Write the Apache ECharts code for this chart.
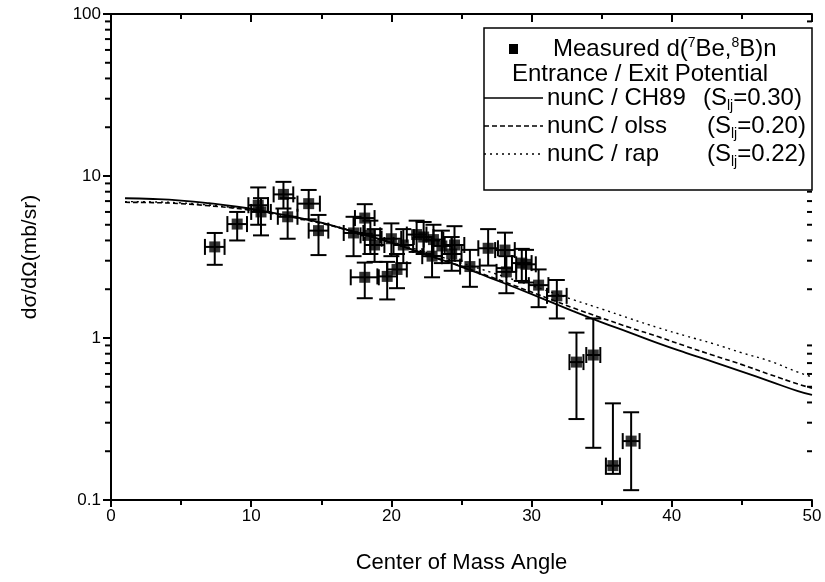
<!DOCTYPE html>
<html><head><meta charset="utf-8">
<script src="https://cdn.jsdelivr.net/npm/echarts@6/dist/echarts.min.js"></script>
<style>html,body{margin:0;padding:0;background:#fff}#c{width:825px;height:582px}</style>
</head><body><div id="c"></div>
<script>
const FONT = '"Liberation Sans", Arial, Helvetica, sans-serif';

// Measured d(7Be,8B)n data
const angles       = [7.4, 9.0, 10.5, 10.7, 12.3, 12.6, 14.1, 14.8, 17.3, 18.1, 18.5, 18.8, 18.1, 19.7, 20.4, 20.0, 20.85, 21.8, 22.3, 23.0, 22.9, 23.6, 24.5, 24.3, 25.6, 26.9, 28.1, 28.2, 29.3, 29.6, 30.5, 31.8, 33.2, 34.4, 35.8, 37.1];
const crossSection = [3.65, 5.05, 6.6, 6.0, 7.7, 5.6, 6.75, 4.6, 4.45, 5.5, 4.3, 3.75, 2.37, 2.4, 2.65, 4.1, 3.75, 4.35, 4.2, 4.05, 3.2, 3.7, 3.75, 3.3, 2.76, 3.58, 3.49, 2.56, 2.9, 2.85, 2.12, 1.82, 0.71, 0.785, 0.163, 0.231];
const errLow       = [2.83, 4.0, 5.0, 4.3, 6.3, 4.1, 5.4, 3.25, 3.2, 4.4, 3.3, 2.95, 1.76, 1.73, 2.03, 3.2, 2.9, 3.4, 3.3, 3.2, 2.37, 2.9, 3.0, 2.6, 2.07, 2.8, 2.7, 1.89, 2.25, 2.2, 1.55, 1.32, 0.316, 0.21, 0.145, 0.115];
const errHigh      = [4.45, 6.0, 8.5, 7.3, 9.2, 7.3, 8.2, 5.75, 5.6, 6.7, 5.3, 4.7, 2.92, 2.95, 3.3, 5.1, 4.7, 5.3, 5.2, 5.0, 4.0, 4.6, 4.9, 4.2, 3.5, 4.7, 4.47, 3.2, 3.55, 3.5, 2.65, 2.28, 1.08, 1.32, 0.395, 0.348];
const angleErr     = [0.7, 0.7, 0.7, 0.7, 0.7, 0.7, 0.8, 0.7, 0.7, 0.7, 0.7, 0.7, 1.0, 0.7, 0.7, 0.7, 0.7, 0.7, 0.7, 0.7, 0.7, 0.7, 0.7, 0.7, 0.7, 0.7, 0.7, 0.7, 0.7, 0.7, 0.7, 0.7, 0.5, 0.5, 0.5, 0.6];

// Theory curves
const curveAngles = [1, 3, 5, 7, 9, 11, 13, 15, 17, 19, 21, 23, 25, 27, 29, 31, 33, 35, 37, 39, 41, 43, 45, 47, 49, 50];
const ch89 = [7.29, 7.21, 7.05, 6.79, 6.46, 6.05, 5.62, 5.15, 4.62, 4.12, 3.63, 3.16, 2.75, 2.36, 2.02, 1.72, 1.46, 1.25, 1.08, 0.93, 0.81, 0.71, 0.62, 0.54, 0.47, 0.445];
const olss = [6.88, 6.85, 6.75, 6.55, 6.3, 5.95, 5.55, 5.1, 4.6, 4.1, 3.62, 3.17, 2.77, 2.40, 2.07, 1.78, 1.53, 1.33, 1.16, 1.02, 0.89, 0.78, 0.685, 0.595, 0.52, 0.49];
const rap  = [6.95, 6.92, 6.82, 6.62, 6.35, 6.0, 5.6, 5.15, 4.65, 4.17, 3.7, 3.27, 2.9, 2.56, 2.25, 1.97, 1.72, 1.51, 1.32, 1.16, 1.03, 0.92, 0.81, 0.72, 0.615, 0.575];

// Tick values
const xTickLabels = ['0', '10', '20', '30', '40', '50'];
const yMinorTicks = [0.2, 0.3, 0.4, 0.5, 0.6, 0.7, 0.8, 0.9, 2, 3, 4, 5, 6, 7, 8, 9, 20, 30, 40, 50, 60, 70, 80, 90];

const measured = angles.map((a, i) => [a, crossSection[i], errLow[i], errHigh[i], angleErr[i]]);
const pair = arr => curveAngles.map((a, i) => [a, arr[i]]);

const chart = echarts.init(document.getElementById('c'), null, {renderer: 'canvas'});
const axisLine = {show: true, lineStyle: {color: '#000', width: 2}};
const labelStyle = {color: '#000', fontFamily: FONT, fontSize: 17};

function errorBar(params, api) {
  const x = api.value(0), y = api.value(1), lo = api.value(2), hi = api.value(3), dx = api.value(4);
  const c = api.coord([x, y]);
  const pLo = api.coord([x, lo]);
  const pHi = api.coord([x, hi]);
  const pL = api.coord([x - dx, y]);
  const pR = api.coord([x + dx, y]);
  const cap = 8;
  const st = {stroke: '#000', lineWidth: 2};
  const L = (x1, y1, x2, y2) => ({type: 'line', shape: {x1, y1, x2, y2}, style: st});
  return {type: 'group', children: [
    L(c[0], pHi[1], c[0], pLo[1]),
    L(c[0] - cap, pHi[1], c[0] + cap, pHi[1]),
    L(c[0] - cap, pLo[1], c[0] + cap, pLo[1]),
    L(pL[0], c[1], pR[0], c[1]),
    L(pL[0], c[1] - cap, pL[0], c[1] + cap),
    L(pR[0], c[1] - cap, pR[0], c[1] + cap)
  ]};
}

// minor ticks of the log axes: left side (outward)
function minorTickLeft(params, api) {
  const l = api.coord([api.value(0), api.value(1)]);
  return {type: 'line', shape: {x1: l[0] - 6, y1: l[1], x2: l[0], y2: l[1]}, style: {stroke: '#000', lineWidth: 2}};
}
// minor ticks of the log axes: right side (inward)
function minorTickRight(params, api) {
  const r = api.coord([api.value(0), api.value(1)]);
  return {type: 'line', shape: {x1: r[0] - 5, y1: r[1], x2: r[0], y2: r[1]}, style: {stroke: '#000', lineWidth: 2}};
}

const LX = 484, LY = [49, 74, 98, 126, 154];
const rich = {
  n: {fontSize: 24, fontFamily: FONT, color: '#000', lineHeight: 26},
  sup: {fontSize: 14, fontFamily: FONT, color: '#000', lineHeight: 14, padding: [0, 0, 12, 0]},
  sub: {fontSize: 14, fontFamily: FONT, color: '#000', lineHeight: 14, padding: [16, 0, 0, 0]}
};
function legText(x, y, text) {
  return {type: 'text', x: x, y: y, z: 100, style: {text: text, rich: rich, verticalAlign: 'middle', align: 'left', fill: '#000'}};
}
function legLine(y, dash) {
  return {type: 'line', z: 100, shape: {x1: LX, y1: y, x2: 543, y2: y}, style: {stroke: '#000', lineWidth: 1.5, lineDash: dash}};
}

chart.setOption({
  animation: false,
  backgroundColor: '#fff',
  grid: {left: 111, right: 13, top: 14, bottom: 82, containLabel: false},
  xAxis: [
    {type: 'value', position: 'bottom', min: 0, max: 50, interval: 10,
     name: 'Center of Mass Angle', nameLocation: 'middle', nameGap: 52,
     nameTextStyle: {color: '#000', fontFamily: FONT, fontSize: 22},
     axisLine: axisLine, splitLine: {show: false},
     axisTick: {show: true, inside: false, length: 7, lineStyle: {color: '#000', width: 2}},
     minorTick: {show: true, splitNumber: 2, length: 5, lineStyle: {color: '#000', width: 2}},
     axisLabel: Object.assign({margin: 8, formatter: (v) => xTickLabels[Math.round(v / 10)]}, labelStyle)},
    {type: 'value', position: 'top', min: 0, max: 50, interval: 10,
     axisLine: axisLine, splitLine: {show: false},
     axisTick: {show: true, inside: true, length: 8, lineStyle: {color: '#000', width: 2}},
     minorTick: {show: true, splitNumber: 2, length: 5, lineStyle: {color: '#000', width: 2}},
     axisLabel: {show: false}}
  ],
  yAxis: [
    {type: 'log', logBase: 10, min: 0.1, max: 100, position: 'left',
     name: 'dσ/dΩ(mb/sr)', nameLocation: 'middle', nameGap: 70, nameRotate: 90,
     nameTextStyle: {color: '#000', fontFamily: FONT, fontSize: 21},
     axisLine: axisLine, splitLine: {show: false},
     axisTick: {show: true, inside: false, length: 8, lineStyle: {color: '#000', width: 2}},
     axisLabel: Object.assign({margin: 10, formatter: (v) => String(v)}, labelStyle)},
    {type: 'log', logBase: 10, min: 0.1, max: 100, position: 'right',
     axisLine: axisLine, splitLine: {show: false}, axisLabel: {show: false},
     axisTick: {show: true, inside: true, length: 8, lineStyle: {color: '#000', width: 2}}}
  ],
  series: [
    {name: 'minorTicksL', type: 'custom', data: yMinorTicks.map(v => [0, v]), renderItem: minorTickLeft,
     clip: false, silent: true, encode: {x: 0, y: 1}, z: 6},
    {name: 'minorTicksR', type: 'custom', data: yMinorTicks.map(v => [50, v]), renderItem: minorTickRight,
     clip: false, silent: true, encode: {x: 0, y: 1}, z: 2},
    {name: 'nunC / CH89', type: 'line', data: pair(ch89), smooth: true, showSymbol: false,
     lineStyle: {color: '#000', width: 1.8, type: 'solid'}, z: 3},
    {name: 'nunC / olss', type: 'line', data: pair(olss), smooth: true, showSymbol: false,
     lineStyle: {color: '#000', width: 1.6, type: [5, 3]}, z: 3},
    {name: 'nunC / rap', type: 'line', data: pair(rap), smooth: true, showSymbol: false,
     lineStyle: {color: '#000', width: 1.4, type: [2, 4]}, z: 3},
    {name: 'err', type: 'custom', data: measured, renderItem: errorBar, z: 4,
     encode: {x: 0, y: 1}},
    {name: 'Measured', type: 'scatter', data: measured.map(d => [d[0], d[1]]), symbol: 'rect', symbolSize: 11,
     itemStyle: {color: '#000'}, z: 5}
  ],
  graphic: [
    {type: 'rect', z: 99, shape: {x: 484, y: 28, width: 328, height: 162}, style: {fill: '#fff', stroke: '#000', lineWidth: 1.5}},
    {type: 'rect', z: 100, shape: {x: 509, y: 44, width: 9, height: 10}, style: {fill: '#000'}},
    legText(553, LY[0], '{n|Measured d(}{sup|7}{n|Be,}{sup|8}{n|B)n}'),
    legText(512, LY[1], '{n|Entrance / Exit Potential}'),
    legLine(LY[2], null), legLine(LY[3], [5, 3]), legLine(LY[4], [2, 4]),
    legText(547, LY[2], '{n|nunC / CH89}'),
    legText(703, LY[2], '{n|(S}{sub|lj}{n|=0.30)}'),
    legText(547, LY[3], '{n|nunC / olss}'),
    legText(707, LY[3], '{n|(S}{sub|lj}{n|=0.20)}'),
    legText(547, LY[4], '{n|nunC / rap}'),
    legText(707, LY[4], '{n|(S}{sub|lj}{n|=0.22)}')
  ]
});
</script></body></html>
